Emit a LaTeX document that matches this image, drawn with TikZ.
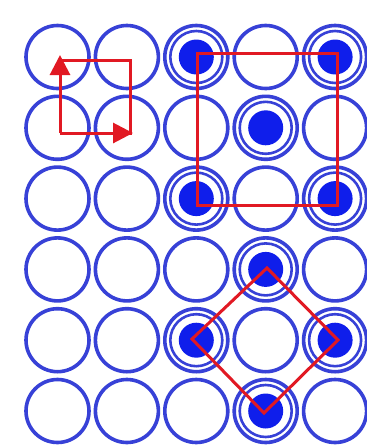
\documentclass[tikz,border=0pt]{standalone}
\usetikzlibrary{arrows.meta}
\definecolor{ringblue}{RGB}{55,65,215}
\definecolor{dotblue}{RGB}{15,30,235}
\definecolor{loopred}{RGB}{225,25,35}
\begin{document}
\begin{tikzpicture}[x=1pt,y=-1pt,
  ring/.style={draw=ringblue,line width=3.6pt},
  innerring/.style={draw=ringblue,line width=2.6pt},
  dotfill/.style={fill=dotblue},
  redline/.style={draw=loopred,line width=3pt},
  redarrow/.style={redline,-{Triangle[length=20pt,width=20pt]}}]
\useasboundingbox[fill=white] (0,0) rectangle (367,445);
\foreach \r in {1,...,6}{
  \foreach \c in {1,...,5}{
    \coordinate (p\r\c) at ({57.5+69.4*(\c-1)},{57+70.8*(\r-1)});
    \draw[ring] (p\r\c) circle[radius=31.5];
  }}
\foreach \rc in {13,15,24,33,35,44,53,55,64}{
  \fill[dotfill] (p\rc) circle[radius=17.5];
  \draw[innerring] (p\rc) circle[radius=26];
}
% small loop with arrows
\coordinate (tl) at (60,60);
\coordinate (tr) at (130,60);
\coordinate (br) at (130,133);
\coordinate (bl) at (60,133);
\coordinate (uptip) at (60,55);
\coordinate (righttip) at (133,133);
\draw[redline,line cap=rect] (tl) -- (tr) -- (br);
\draw[redarrow] (bl) -- (uptip);
\draw[redarrow] (bl) -- (righttip);
% square
\coordinate (sqa) at (197,53);
\coordinate (sqb) at (337,205);
\draw[redline] (sqa) rectangle (sqb);
% diamond
\coordinate (dt) at (267,268);
\coordinate (dr) at (338,340);
\coordinate (db) at (264,413);
\coordinate (dl) at (192,339);
\draw[redline,line join=miter] (dt) -- (dr) -- (db) -- (dl) -- cycle;
\end{tikzpicture}
\end{document}
